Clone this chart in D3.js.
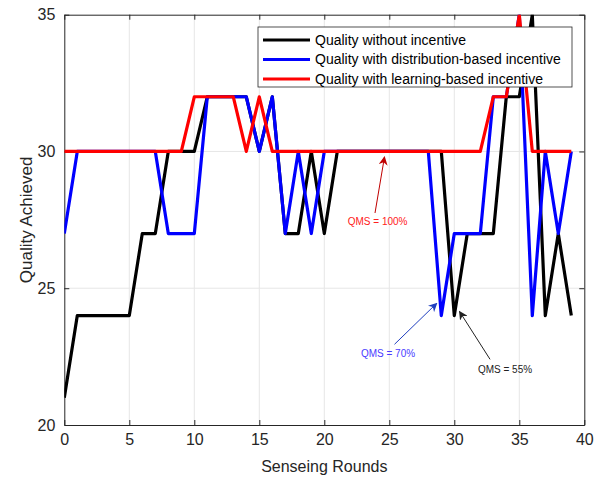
<!DOCTYPE html>
<html>
<head>
<meta charset="utf-8">
<script src="https://d3js.org/d3.v7.min.js"></script>
<style>
  body { margin: 0; background: #fff; }
  text { font-family: Arial, "Liberation Sans", sans-serif; }
</style>
</head>
<body>
<svg id="svgQuality"></svg>
<script>
/////////////////////////////////////////////////////////////////////////////////////////

const WIDTH = 612, HEIGHT = 477;
const LEFT = 64.3, RIGHT = 584.3, TOP = 14.7, BOTTOM = 425;

// DATA ////////////////////////////////////////////////////////////////////////////////

var rounds = d3.range(0, 40);

var without_incentive = [21, 24, 24, 24, 24, 24, 27, 27, 30, 30,
                         30, 32, 32, 32, 32, 30, 32, 27, 27, 30,
                         27, 30, 30, 30, 30, 30, 30, 30, 30, 30,
                         24, 27, 27, 27, 32, 32, 35, 24, 27, 24];

var distribution_incentive = [27, 30, 30, 30, 30, 30, 30, 30, 27, 27,
                              27, 32, 32, 32, 32, 30, 32, 27, 30, 27,
                              30, 30, 30, 30, 30, 30, 30, 30, 30, 24,
                              27, 27, 27, 32, 32, 35, 24, 30, 27, 30];

var learning_incentive = [30, 30, 30, 30, 30, 30, 30, 30, 30, 30,
                          32, 32, 32, 32, 30, 32, 30, 30, 30, 30,
                          30, 30, 30, 30, 30, 30, 30, 30, 30, 30,
                          30, 30, 30, 32, 32, 35, 30, 30, 30, 30];

var series_names = ["Quality without incentive",
                    "Quality with distribution-based incentive",
                    "Quality with learning-based incentive"];
var series_colours = ["#000000", "#0000ff", "#ff0000"];

var x_ticks = [0, 5, 10, 15, 20, 25, 30, 35, 40];
var y_ticks = [20, 25, 30, 35];

// annotations: label position, arrow tail, arrow head (data units)
var annotations = [
    { label: "QMS = 100%", tx: 24.1, ty: 27.3, x1: 23.9, y1: 27.75, x2: 24.63, y2: 29.8, text: "#ff2020", arrow: "#c00000" },
    { label: "QMS = 70%", tx: 24.9, ty: 22.5, x1: 25.4, y1: 22.95, x2: 28.65, y2: 24.45, text: "#4a3cff", arrow: "#1f3fbf" },
    { label: "QMS = 55%", tx: 33.9, ty: 21.9, x1: 32.75, y1: 22.4, x2: 30.4, y2: 24.15, text: "#222222", arrow: "#222222" }
];

// SETUP ///////////////////////////////////////////////////////////////////////////////

var svg = d3.select("#svgQuality")
    .attr("width", WIDTH)
    .attr("height", HEIGHT);

var x = d3.scaleLinear().domain([0, 40]).range([LEFT, RIGHT]);
var y = d3.scaleLinear().domain([20, 35]).range([BOTTOM, TOP]);

svg.append("defs").append("clipPath").attr("id", "plotClip")
    .append("rect")
    .attr("x", LEFT).attr("y", TOP)
    .attr("width", RIGHT - LEFT).attr("height", BOTTOM - TOP);

// grid lines
svg.append("g")
    .selectAll("line")
    .data(x_ticks.slice(1, -1))
    .enter().append("line")
    .attr("x1", d => x(d)).attr("x2", d => x(d))
    .attr("y1", TOP).attr("y2", BOTTOM)
    .attr("stroke", "#e6e6e6").attr("stroke-width", 1);

svg.append("g")
    .selectAll("line")
    .data(y_ticks.slice(1, -1))
    .enter().append("line")
    .attr("y1", d => y(d)).attr("y2", d => y(d))
    .attr("x1", LEFT).attr("x2", RIGHT)
    .attr("stroke", "#e6e6e6").attr("stroke-width", 1);

// AXES ////////////////////////////////////////////////////////////////////////////////

function styleAxis(g) {
    g.select(".domain").attr("stroke", "#262626");
    g.selectAll(".tick line").attr("stroke", "#262626");
    g.selectAll(".tick text")
        .attr("fill", "#262626")
        .style("font-size", "16px");
}

svg.append("g")
    .attr("transform", "translate(0," + BOTTOM + ")")
    .call(d3.axisBottom(x).tickValues(x_ticks).tickSizeInner(-5).tickSizeOuter(0).tickPadding(9))
    .call(styleAxis);

svg.append("g")
    .attr("transform", "translate(" + LEFT + ",0)")
    .call(d3.axisLeft(y).tickValues(y_ticks).tickSizeInner(-5).tickSizeOuter(0).tickPadding(9))
    .call(styleAxis);

// top / right box with inward ticks
svg.append("g")
    .attr("transform", "translate(0," + TOP + ")")
    .call(d3.axisTop(x).tickValues(x_ticks).tickSizeInner(-5).tickSizeOuter(0).tickFormat(""))
    .call(styleAxis);

svg.append("g")
    .attr("transform", "translate(" + RIGHT + ",0)")
    .call(d3.axisRight(y).tickValues(y_ticks).tickSizeInner(-5).tickSizeOuter(0).tickFormat(""))
    .call(styleAxis);

svg.append("text")
    .attr("x", (LEFT + RIGHT) / 2)
    .attr("y", 472)
    .attr("text-anchor", "middle")
    .style("font-size", "16px")
    .attr("fill", "#262626")
    .text("Senseing Rounds");

svg.append("text")
    .attr("transform", "translate(32," + ((TOP + BOTTOM) / 2) + ") rotate(-90)")
    .attr("text-anchor", "middle")
    .style("font-size", "17px")
    .attr("fill", "#262626")
    .text("Quality Achieved");

// LINES ///////////////////////////////////////////////////////////////////////////////

var all_series = [without_incentive, distribution_incentive, learning_incentive];

var line = d3.line()
    .x((d, i) => x(rounds[i]))
    .y(d => y(d));

svg.append("g")
    .attr("clip-path", "url(#plotClip)")
    .selectAll("path")
    .data(all_series)
    .enter().append("path")
    .attr("d", d => line(d))
    .attr("fill", "none")
    .attr("stroke", (d, i) => series_colours[i])
    .attr("stroke-width", 3.2)
    .attr("stroke-linejoin", "round");

// ANNOTATIONS /////////////////////////////////////////////////////////////////////////

var defs = svg.select("defs");
annotations.forEach(function (a, i) {
    defs.append("marker")
        .attr("id", "head" + i)
        .attr("viewBox", "0 0 10 10")
        .attr("refX", 9).attr("refY", 5)
        .attr("markerWidth", 9).attr("markerHeight", 9)
        .attr("markerUnits", "userSpaceOnUse")
        .attr("orient", "auto")
        .append("path")
        .attr("d", "M0,0 L10,5 L0,10 L3,5 Z")
        .attr("fill", a.arrow);
});

var ann = svg.append("g");
ann.selectAll("line")
    .data(annotations)
    .enter().append("line")
    .attr("x1", d => x(d.x1)).attr("y1", d => y(d.y1))
    .attr("x2", d => x(d.x2)).attr("y2", d => y(d.y2))
    .attr("stroke", d => d.arrow)
    .attr("stroke-width", 1)
    .attr("marker-end", (d, i) => "url(#head" + i + ")");

ann.selectAll("text")
    .data(annotations)
    .enter().append("text")
    .attr("x", d => x(d.tx))
    .attr("y", d => y(d.ty))
    .attr("text-anchor", "middle")
    .style("font-size", "10px")
    .attr("fill", d => d.text)
    .text(d => d.label);

// LEGEND //////////////////////////////////////////////////////////////////////////////

var legend = svg.append("g").attr("transform", "translate(258,27)");

legend.append("rect")
    .attr("width", 314).attr("height", 60)
    .attr("fill", "#fff")
    .attr("stroke", "#262626").attr("stroke-width", 0.8);

var items = legend.selectAll("g.item")
    .data(series_names)
    .enter().append("g")
    .attr("class", "item")
    .attr("transform", (d, i) => "translate(0," + (13 + i * 19.5) + ")");

items.append("line")
    .attr("x1", 5).attr("x2", 52)
    .attr("stroke", (d, i) => series_colours[i])
    .attr("stroke-width", 3.2);

items.append("text")
    .attr("x", 57)
    .attr("dy", "0.35em")
    .style("font-size", "14px")
    .attr("fill", "#000")
    .text(d => d);
</script>
</body>
</html>
